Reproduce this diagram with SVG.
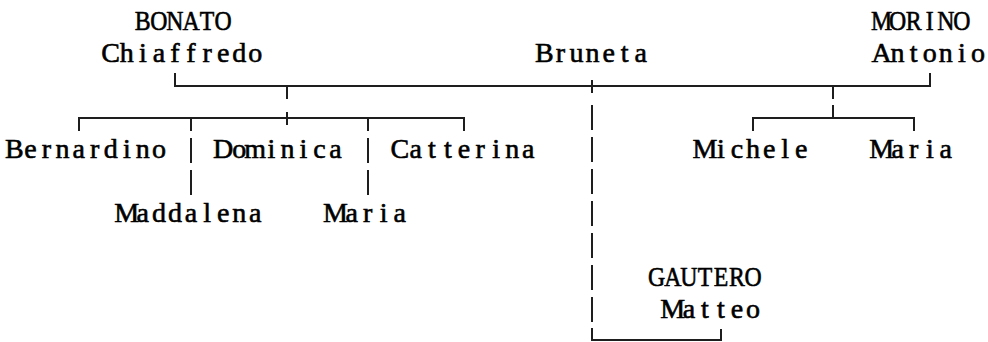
<svg xmlns="http://www.w3.org/2000/svg" width="988" height="342" viewBox="0 0 988 342">
<style>
.t{font-family:"Liberation Serif","DejaVu Serif",serif;font-size:28px;fill:#000;stroke:#000;stroke-width:0.6;text-anchor:middle}
.ln{fill:none;stroke:#1e1e1e;stroke-width:2}
.dash{fill:none;stroke:#1e1e1e;stroke-width:2;stroke-dasharray:25 7}
</style>
<rect width="988" height="342" fill="#fff"/>
<g id="connectors">
<path class="ln" d="M175 73V86H930V73"/>
<path class="ln" d="M287 86V99"/>
<path class="ln" d="M833 86V99"/>
<path class="ln" d="M592 80V93"/>
<path class="ln" d="M79 131V118H464V131"/>
<path class="ln" d="M191 118V131"/>
<path class="ln" d="M368 118V131"/>
<path class="ln" d="M287 112V125"/>
<path class="ln" d="M753 131V118H914V131"/>
<path class="ln" d="M833 105V118"/>
<path class="dash" d="M191 138V195"/>
<path class="dash" d="M368 138V195"/>
<path class="dash" d="M592 105V322"/>
<path class="ln" d="M592 328V340H721V329"/>
</g>
<g id="bonato">
<text class="t" transform="scale(0.85 1)" y="30" x="168.0 186.9 205.8 224.7 243.6 262.5">BONATO</text>
<text class="t" y="62" x="110.7 126.8 142.8 158.9 174.9 191.0 207.1 223.1 239.2 255.2">Chiaffredo</text>
</g>
<g id="bruneta">
<text class="t" y="62" x="544.3 560.4 576.4 592.5 608.6 624.6 640.7">Bruneta</text>
</g>
<g id="morino">
<text class="t" transform="scale(0.85 1)" y="30" x="1037.1 1056.0 1074.9 1093.8 1112.7 1131.6">MORINO</text>
<text class="t" y="62" x="881.6 897.6 913.7 929.8 945.8 961.9 977.9">Antonio</text>
</g>
<g id="bernardino">
<text class="t" y="158" x="14.3 30.4 46.5 62.5 78.6 94.6 110.7 126.8 142.8 158.9">Bernardino</text>
</g>
<g id="maddalena">
<text class="t" y="222" x="126.8 142.8 158.9 174.9 191.0 207.1 223.1 239.2 255.2">Maddalena</text>
</g>
<g id="dominica">
<text class="t" y="158" x="223.1 239.2 255.2 271.3 287.4 303.4 319.5 335.5">Dominica</text>
</g>
<g id="maria1">
<text class="t" y="222" x="335.5 351.6 367.7 383.7 399.8">Maria</text>
</g>
<g id="catterina">
<text class="t" y="158" x="399.8 415.8 431.9 448.0 464.0 480.1 496.1 512.2 528.3">Catterina</text>
</g>
<g id="michele">
<text class="t" y="158" x="704.9 721.0 737.0 753.1 769.2 785.2 801.3">Michele</text>
</g>
<g id="maria2">
<text class="t" y="158" x="881.6 897.6 913.7 929.8 945.8">Maria</text>
</g>
<g id="gautero">
<text class="t" transform="scale(0.85 1)" y="286" x="772.6 791.5 810.4 829.3 848.2 867.1 886.0">GAUTERO</text>
<text class="t" y="318" x="672.8 688.9 704.9 721.0 737.0 753.1">Matteo</text>
</g>
</svg>
